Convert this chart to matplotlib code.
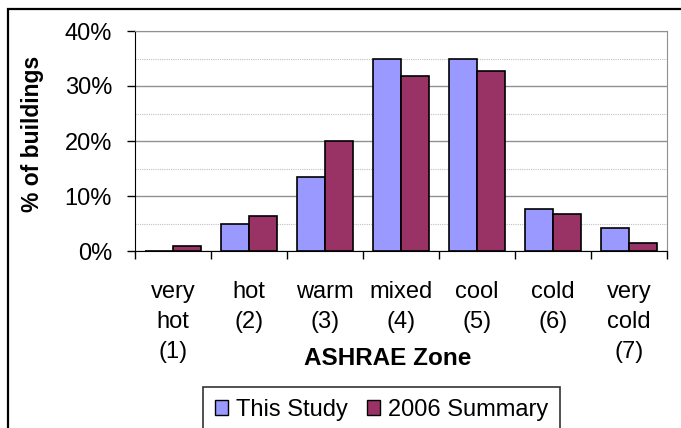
import matplotlib
matplotlib.use("Agg")
import matplotlib.pyplot as plt
from matplotlib.patches import Rectangle, Patch
import numpy as np

categories = ["very\nhot\n(1)", "hot\n(2)", "warm\n(3)", "mixed\n(4)", "cool\n(5)", "cold\n(6)", "very\ncold\n(7)"]
this_study = [0.0, 5.0, 13.5, 35.0, 35.0, 7.7, 4.1]
summary_2006 = [0.9, 6.4, 20.0, 31.8, 32.7, 6.7, 1.5]
series_names = ["This Study", "2006 Summary"]
yticks = [0, 10, 20, 30, 40]
ytick_labels = ["0%", "10%", "20%", "30%", "40%"]

plt.rcParams['font.family'] = ['Liberation Sans', 'DejaVu Sans']

W, H = 681, 428
FS = 17
fig = plt.figure(figsize=(W/100, H/100), dpi=100)
ax = fig.add_axes([135/W, 1-251/H, (667-135)/W, (251-31)/H])

x = np.arange(len(categories))
bw = 0.368
c1, c2 = "#9999FF", "#993366"
ax.bar(x - bw/2, this_study, bw, color=c1, edgecolor="black", linewidth=1.2, zorder=3)
ax.bar(x + bw/2, summary_2006, bw, color=c2, edgecolor="black", linewidth=1.2, zorder=3)

ax.set_xlim(-0.5, len(categories) - 0.5)
ax.set_ylim(0, 40)
ax.set_yticks(yticks)
ax.set_yticklabels(ytick_labels, fontsize=FS)
ax.set_yticks([5, 15, 25, 35], minor=True)
ax.tick_params(axis='y', which='minor', length=0)
ax.grid(axis='y', which='major', color='#909090', linewidth=1.0, zorder=0)
ax.grid(axis='y', which='minor', color='#c0c0c0', linewidth=0.8, linestyle=(0, (1, 1)), zorder=0)
ax.tick_params(axis='y', which='major', length=6, width=1, direction='out', pad=10.5)

# category boundary ticks
ax.set_xticks(np.arange(-0.5, len(categories)), minor=False)
ax.set_xticklabels([])
ax.tick_params(axis='x', which='major', length=6, width=1, direction='out')
for xi, lab in zip(x, categories):
    xf = ax.transData.transform((xi, 0))[0] / W
    for i, line in enumerate(lab.split("\n")):
        fig.text(xf, 1-(298 + 30*i)/H, line, ha='center', va='baseline', fontsize=FS)

for s in ['top', 'right']:
    ax.spines[s].set_color('#909090')
for s in ['left', 'bottom']:
    ax.spines[s].set_color('black')

fig.text(33/W, 1-134/H, "% of buildings", rotation=90, ha='center', va='center',
         fontsize=16.5, fontweight='bold')
fig.text(388/W, 1-365/H, "ASHRAE Zone", ha='center', va='baseline', fontsize=17.5, fontweight='bold')

handles = [Patch(facecolor=c1, edgecolor='black'), Patch(facecolor=c2, edgecolor='black')]
leg = fig.legend(handles, series_names, loc='upper center', bbox_to_anchor=(381.5/W, 1-387/H),
                 ncol=2, fontsize=FS, frameon=True, fancybox=False, edgecolor='black',
                 handlelength=0.55, handleheight=0.55, handletextpad=0.35, columnspacing=0.8,
                 borderpad=0.5, borderaxespad=0)
leg.get_frame().set_linewidth(1.2)

fig.patches.append(Rectangle((8/W, -0.1), 1.0, 1 + 0.1 - 9/H, transform=fig.transFigure,
                             fill=False, edgecolor='black', linewidth=1.6))

fig.savefig("out.png", dpi=100)
